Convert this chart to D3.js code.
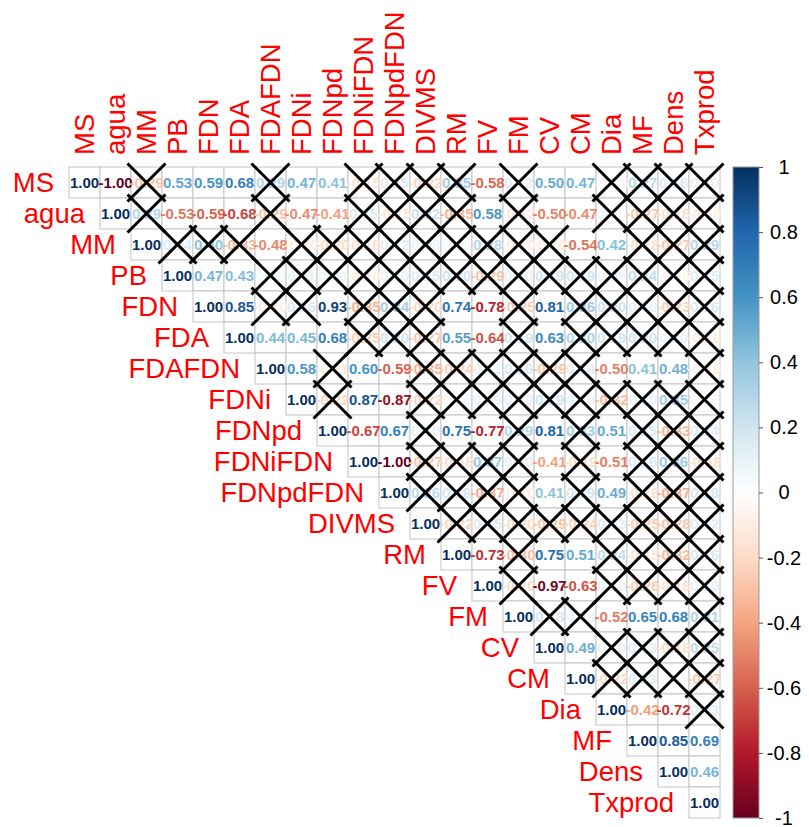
<!DOCTYPE html>
<html>
<head>
<meta charset="utf-8">
<script src="https://cdn.jsdelivr.net/npm/d3@7"></script>
<style>
  body { margin: 0; background: #fff; }
  svg { display: block; font-family: Arial, "Liberation Sans", sans-serif; }
</style>
</head>
<body>
<div class="chart"></div>
<script>
// variables, in matrix order
const vars = ["MS", "agua", "MM", "PB", "FDN", "FDA", "FDAFDN", "FDNi", "FDNpd", "FDNiFDN",
    "FDNpdFDN", "DIVMS", "RM", "FV", "FM", "CV", "CM", "Dia", "MF", "Dens", "Txprod"];

// upper triangle, row i holds r(i, j) for j = i .. 20
const corrRows = [
    [1.00, -1.00, -0.29, 0.53, 0.59, 0.68, 0.29, 0.47, 0.41, -0.15, 0.15, -0.22, 0.35, -0.58, 0.12, 0.50, 0.47, -0.05, 0.27, 0.16, 0.10],
    [1.00, 0.29, -0.53, -0.59, -0.68, -0.29, -0.47, -0.41, 0.15, -0.15, 0.22, -0.35, 0.58, -0.12, -0.50, -0.47, 0.05, -0.27, -0.16, -0.10],
    [1.00, 0.14, 0.40, -0.33, -0.48, -0.10, -0.20, -0.16, 0.12, 0.08, 0.05, 0.28, -0.10, -0.10, -0.54, 0.42, -0.18, -0.27, 0.29],
    [1.00, 0.47, 0.43, 0.05, 0.11, 0.08, -0.10, 0.10, 0.15, 0.20, -0.29, 0.10, 0.19, 0.19, 0.08, 0.24, -0.06, 0.15],
    [1.00, 0.85, -0.10, 0.16, 0.93, -0.35, 0.34, -0.20, 0.74, -0.78, -0.25, 0.81, 0.36, 0.20, 0.10, -0.23, 0.16],
    [1.00, 0.44, 0.45, 0.68, -0.25, 0.20, -0.27, 0.55, -0.64, 0.19, 0.63, 0.30, 0.19, 0.20, 0.10, -0.10],
    [1.00, 0.58, -0.11, 0.60, -0.59, -0.35, -0.24, 0.11, 0.16, -0.29, 0.14, -0.50, 0.41, 0.48, -0.10],
    [1.00, -0.22, 0.87, -0.87, -0.22, 0.05, 0.09, 0.10, 0.19, 0.10, -0.32, 0.10, 0.35, 0.05],
    [1.00, -0.67, 0.67, 0.10, 0.75, -0.77, 0.29, 0.81, 0.33, 0.51, 0.15, -0.33, 0.14],
    [1.00, -1.00, -0.27, -0.18, 0.37, 0.10, -0.41, -0.19, -0.51, 0.16, 0.36, -0.18],
    [1.00, 0.26, 0.18, -0.37, -0.10, 0.41, 0.19, 0.49, -0.16, -0.37, 0.18],
    [1.00, -0.22, 0.15, -0.20, -0.29, -0.24, 0.13, -0.25, -0.28, 0.12],
    [1.00, -0.73, -0.30, 0.75, 0.51, 0.24, -0.15, -0.32, 0.16],
    [1.00, -0.20, -0.97, -0.63, 0.10, -0.26, -0.16, 0.10],
    [1.00, 0.18, 0.08, -0.52, 0.65, 0.68, 0.31],
    [1.00, 0.49, 0.10, 0.13, -0.18, 0.25],
    [1.00, -0.22, 0.13, 0.04, -0.27],
    [1.00, -0.42, -0.72, 0.13],
    [1.00, 0.85, 0.69],
    [1.00, 0.46],
    [1.00]
];

// non significant pairs (crossed): column indexes for each row
const crossedCols = [
    [2, 6, 9, 10, 11, 12, 14, 17, 18, 19, 20],
    [2, 6, 9, 10, 11, 12, 14, 17, 18, 19, 20],
    [3, 4, 5, 7, 8, 9, 10, 11, 12, 13, 14, 15, 18, 19, 20],
    [6, 7, 8, 9, 10, 11, 12, 13, 14, 15, 16, 17, 18, 19, 20],
    [6, 7, 9, 10, 11, 14, 16, 17, 18, 19, 20],
    [9, 10, 11, 14, 16, 17, 18, 19, 20],
    [8, 11, 12, 13, 14, 15, 16, 20],
    [8, 11, 12, 13, 14, 15, 16, 17, 18, 19, 20],
    [11, 14, 16, 18, 19, 20],
    [11, 12, 13, 14, 16, 18, 19, 20],
    [11, 12, 13, 14, 16, 18, 19, 20],
    [12, 13, 14, 15, 16, 17, 18, 19, 20],
    [14, 17, 18, 19, 20],
    [14, 17, 18, 19, 20],
    [15, 16, 20],
    [17, 18, 19, 20],
    [17, 18, 19, 20],
    [20],
    [], [], []
];

const legendTicks = [1, 0.8, 0.6, 0.4, 0.2, 0, -0.2, -0.4, -0.6, -0.8, -1];

const paletteRdBu = ["#67001F", "#B2182B", "#D6604D", "#F4A582", "#FDDBC7", "#FFFFFF",
    "#D1E5F0", "#92C5DE", "#4393C3", "#2166AC", "#053061"];

const width = 809;
const height = 827;
const cell = 31;
const gridLeft = 69;
const gridTop = 167;

// plain hyphen instead of d3's unicode minus
const fmt2 = v => d3.format(".2f")(v).replace("\u2212", "-");
const fmtLeg = v => d3.format("")(v).replace("\u2212", "-");

const svg = d3.select(".chart")
    .append("svg")
    .attr("width", width)
    .attr("height", height);

svg.append("rect").attr("width", width).attr("height", height).attr("fill", "#fff");

const x = d3.scaleBand().domain(vars).range([gridLeft, gridLeft + cell * vars.length]);
const y = d3.scaleBand().domain(vars).range([gridTop, gridTop + cell * vars.length]);
const color = d3.scaleLinear()
    .domain(d3.range(-1, 1.0001, 0.2))
    .range(paletteRdBu);

// flatten into cells
const cells = [];
corrRows.forEach((row, i) => {
    row.forEach((r, k) => {
        const j = i + k;
        cells.push({ row: vars[i], col: vars[j], r: r, crossed: crossedCols[i].includes(j) });
    });
});

const g = svg.append("g");

g.selectAll(".cell")
    .data(cells)
    .enter()
    .append("rect")
    .attr("class", "cell")
    .attr("x", d => x(d.col))
    .attr("y", d => y(d.row))
    .attr("width", x.bandwidth())
    .attr("height", y.bandwidth())
    .attr("fill", "#fff")
    .attr("stroke", "#c4c4c4")
    .attr("stroke-width", 1);

g.selectAll(".num")
    .data(cells)
    .enter()
    .append("text")
    .attr("class", "num")
    .attr("x", d => x(d.col) + x.bandwidth() / 2)
    .attr("y", d => y(d.row) + y.bandwidth() / 2 + 5.5)
    .attr("text-anchor", "middle")
    .attr("font-size", 15)
    .attr("font-weight", "bold")
    .attr("fill", d => color(d.r))
    .text(d => fmt2(d.r));

// crosses for non significant correlations
const half = 19;
g.selectAll(".cross")
    .data(cells.filter(d => d.crossed))
    .enter()
    .append("path")
    .attr("class", "cross")
    .attr("d", d => {
        const cx = x(d.col) + x.bandwidth() / 2;
        const cy = y(d.row) + y.bandwidth() / 2;
        return `M${cx - half},${cy - half}L${cx + half},${cy + half}M${cx + half},${cy - half}L${cx - half},${cy + half}`;
    })
    .attr("stroke", "#000")
    .attr("stroke-width", 3)
    .attr("fill", "none");

// row labels, left of the diagonal
const labelSize = 27.5;
g.selectAll(".rowlab")
    .data(vars)
    .enter()
    .append("text")
    .attr("class", "rowlab")
    .attr("x", d => x(d) - 15)
    .attr("y", d => y(d) + y.bandwidth() / 2 + labelSize * 0.36)
    .attr("text-anchor", "end")
    .attr("font-size", labelSize)
    .attr("fill", "#ff0000")
    .text(d => d);

// column labels, rotated
g.selectAll(".collab")
    .data(vars)
    .enter()
    .append("text")
    .attr("class", "collab")
    .attr("transform", d => `translate(${x(d) + x.bandwidth() / 2 + labelSize * 0.36},${gridTop - 12}) rotate(-90)`)
    .attr("text-anchor", "start")
    .attr("font-size", labelSize)
    .attr("fill", "#ff0000")
    .text(d => d);

// colour legend
const barX = 733;
const barW = 26;
const yBar = d3.scaleLinear().domain([1, -1]).range([gridTop, gridTop + cell * vars.length]);

const grad = svg.append("defs")
    .append("linearGradient")
    .attr("id", "rdbu")
    .attr("x1", 0).attr("y1", 1).attr("x2", 0).attr("y2", 0);

grad.selectAll("stop")
    .data(paletteRdBu)
    .enter()
    .append("stop")
    .attr("offset", (d, i) => i / (paletteRdBu.length - 1))
    .attr("stop-color", d => d);

svg.append("rect")
    .attr("x", barX)
    .attr("y", yBar(1))
    .attr("width", barW)
    .attr("height", yBar(-1) - yBar(1))
    .attr("fill", "url(#rdbu)")
    .attr("stroke", "#999")
    .attr("stroke-width", 1);

const legAxis = svg.append("g")
    .attr("transform", `translate(${barX + barW},0)`)
    .call(d3.axisRight(yBar).tickValues(legendTicks).tickSize(4).tickFormat(fmtLeg));

legAxis.select(".domain").remove();
legAxis.selectAll(".tick line").attr("stroke", "#555");
legAxis.selectAll(".tick text")
    .attr("x", 25)
    .attr("text-anchor", "middle")
    .attr("font-size", 20)
    .attr("font-family", "Arial, 'Liberation Sans', sans-serif")
    .attr("fill", "#000");
</script>
</body>
</html>
